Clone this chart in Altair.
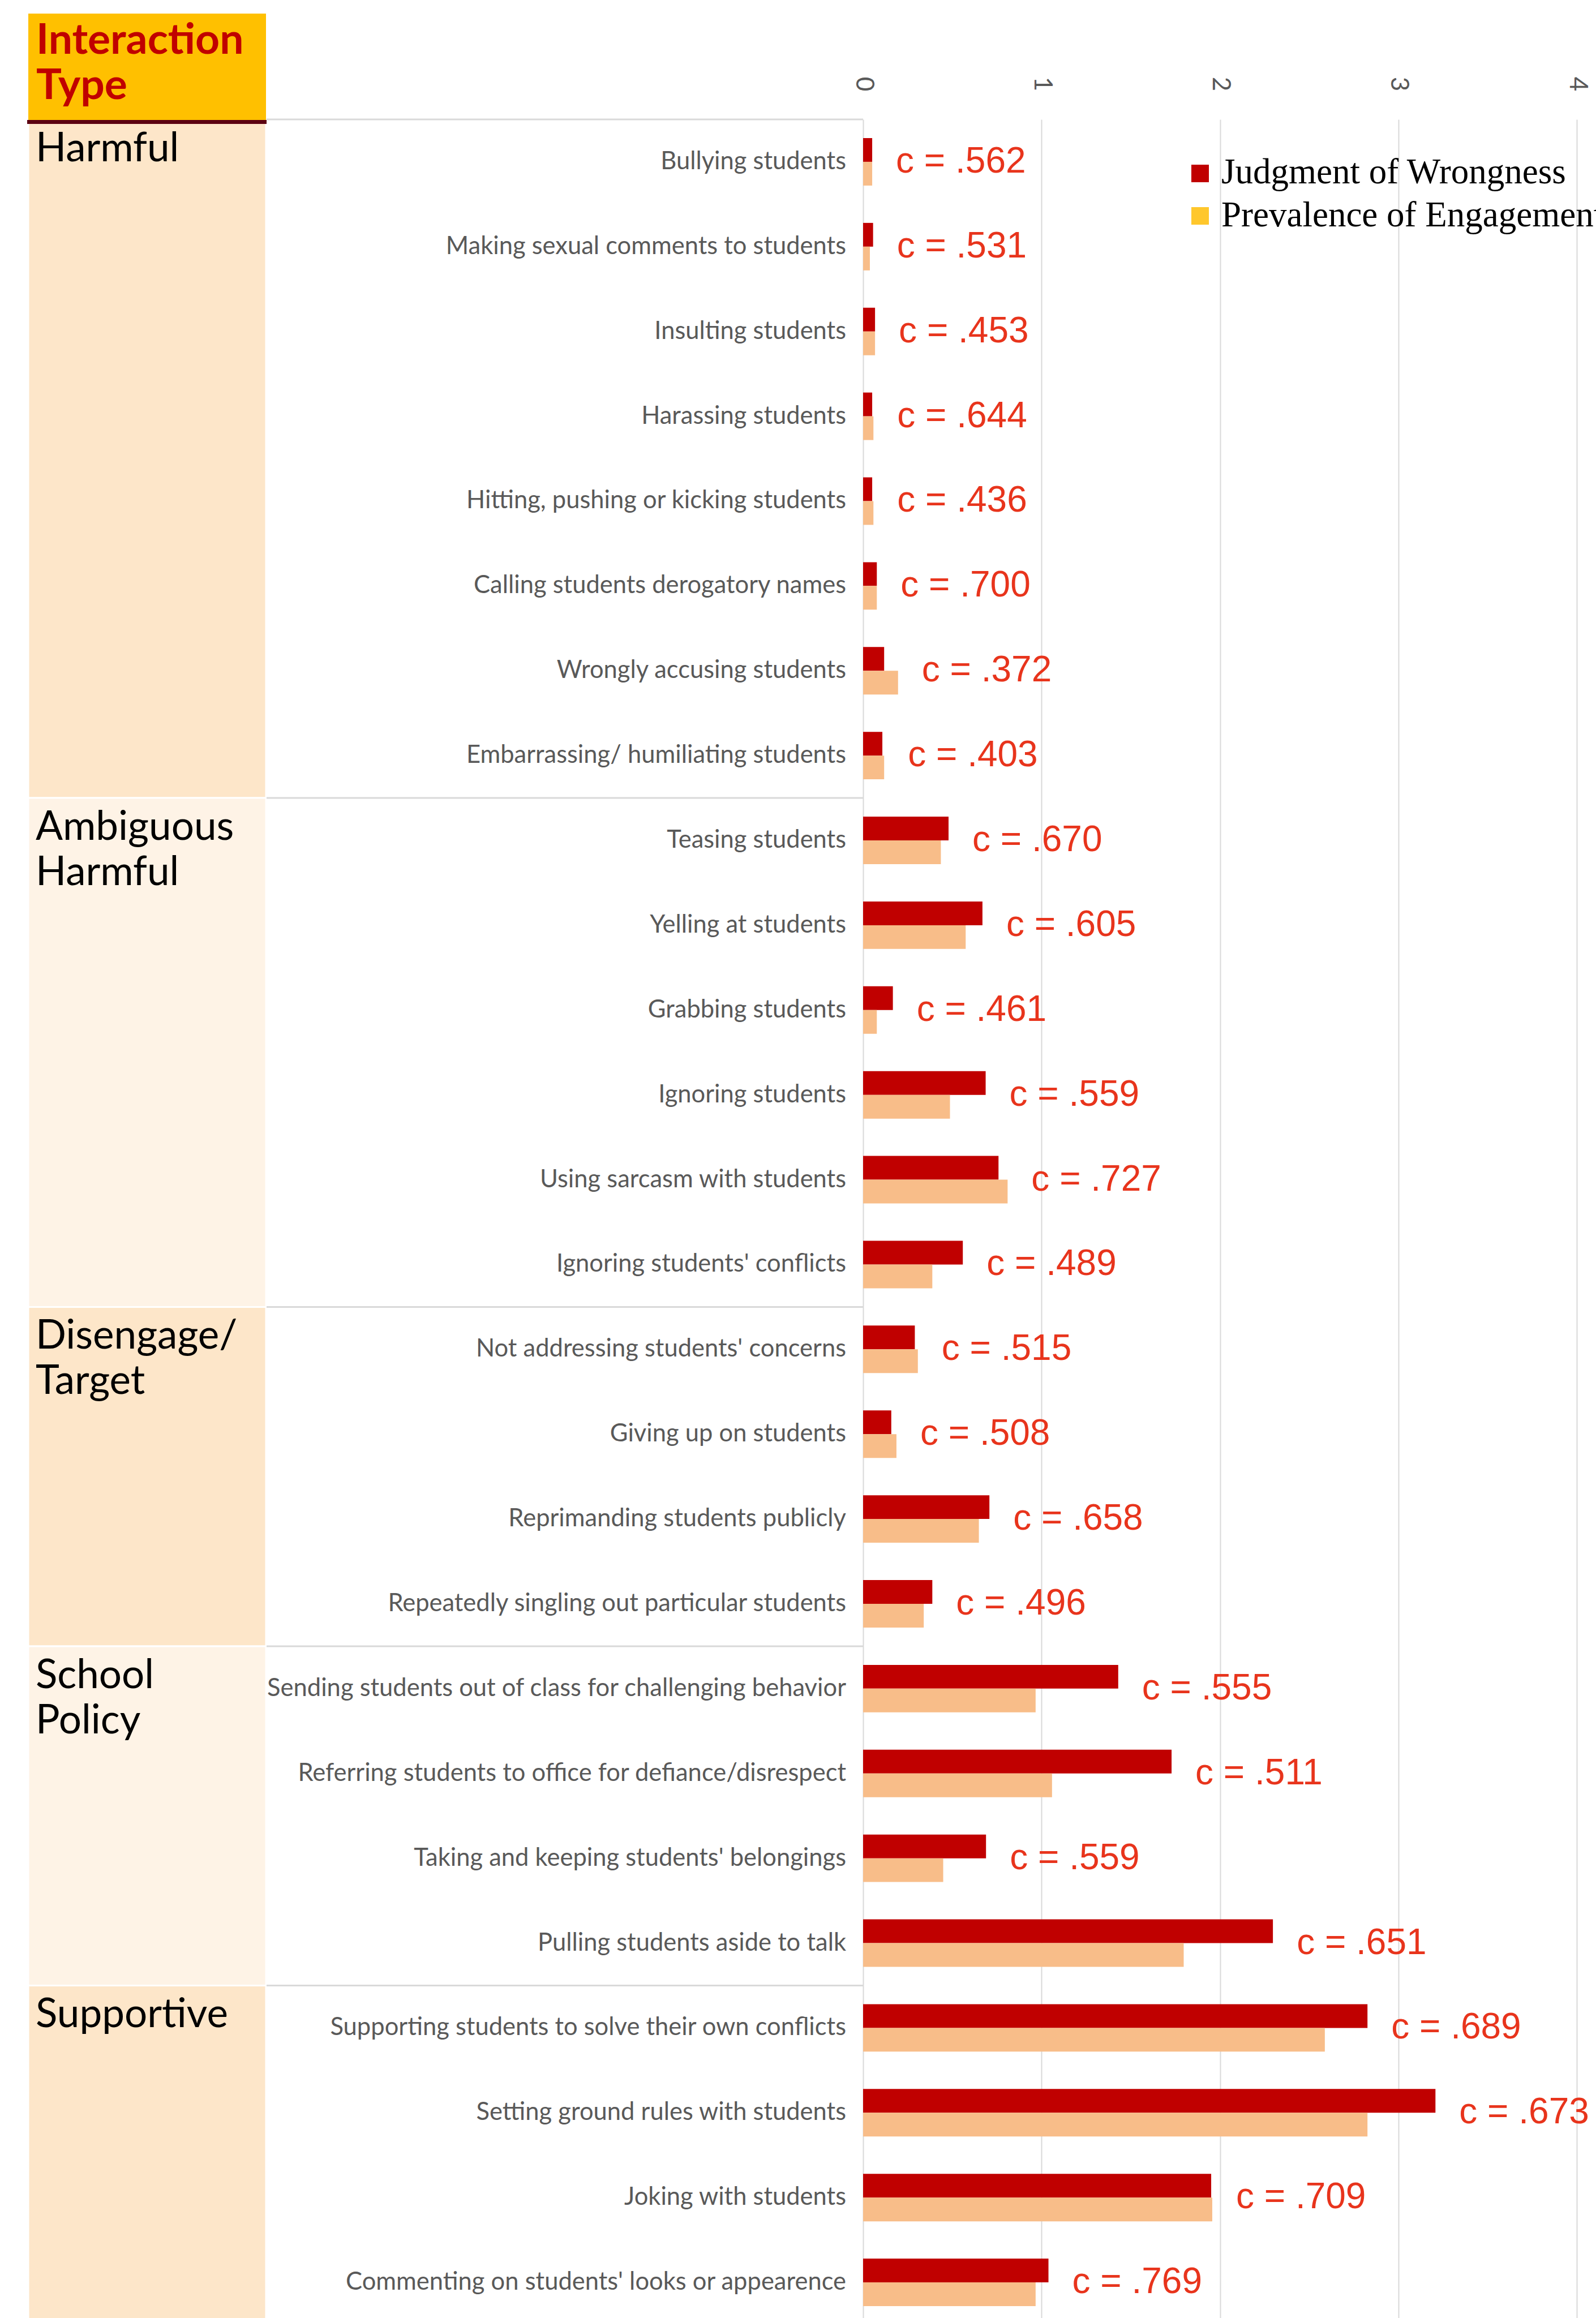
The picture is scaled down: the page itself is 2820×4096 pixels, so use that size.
import altair as alt
import pandas as pd

items = [
    "Bullying students",
    "Making sexual comments to students",
    "Insulting students",
    "Harassing students",
    "Hitting, pushing or kicking students",
    "Calling students derogatory names",
    "Wrongly accusing students",
    "Embarrassing/ humiliating students",
    "Teasing students",
    "Yelling at students",
    "Grabbing students",
    "Ignoring students",
    "Using sarcasm with students",
    "Ignoring students' conflicts",
    "Not addressing students' concerns",
    "Giving up on students",
    "Reprimanding students publicly",
    "Repeatedly singling out particular students",
    "Sending students out of class for challenging behavior",
    "Referring students to office for defiance/disrespect",
    "Taking and keeping students' belongings",
    "Pulling students aside to talk",
    "Supporting students to solve their own conflicts",
    "Setting ground rules with students",
    "Joking with students",
    "Commenting on students' looks or appearence",
]
group_names = ["Harmful", "Ambiguous\nHarmful", "Disengage/\nTarget", "School\nPolicy", "Supportive"]
group_sizes = [8, 6, 4, 4, 4]

judgment = [0.051, 0.056, 0.067, 0.051, 0.051, 0.077, 0.118, 0.108,
            0.479, 0.669, 0.167, 0.687, 0.759, 0.559,
            0.290, 0.158, 0.708, 0.388,
            1.430, 1.729, 0.689, 2.297,
            2.827, 3.208, 1.951, 1.039]
prevalence = [0.051, 0.038, 0.067, 0.058, 0.058, 0.077, 0.196, 0.118,
              0.436, 0.575, 0.077, 0.487, 0.810, 0.388,
              0.307, 0.187, 0.649, 0.340,
              0.967, 1.059, 0.449, 1.797,
              2.588, 2.827, 1.957, 0.967]
c_values = [".562", ".531", ".453", ".644", ".436", ".700", ".372", ".403",
            ".670", ".605", ".461", ".559", ".727", ".489",
            ".515", ".508", ".658", ".496",
            ".555", ".511", ".559", ".651",
            ".689", ".673", ".709", ".769"]
series_names = ["Judgment of Wrongness", "Prevalence of Engagement"]
tick_values = [0, 1, 2, 3, 4]

# colours
RED = "#c00000"
ORANGE = "#f8bd89"
LEGEND_YELLOW = "#ffc72c"
LABEL_RED = "#e8341c"
PEACH = "#fde6c9"
LIGHT = "#fef3e6"
GOLD = "#ffc000"
MAROON = "#5c0011"
GRAY_TXT = "#595959"
GRID = "#d9d9d9"

# layout (output pixels)
W = 2820
N = len(items)
STEP = 149.9
H = round(N * STEP)
TOP = 211
X0, X4 = 1525, 2786

# ---- data tables ----
bars_df = pd.DataFrame({
    "item": items * 2,
    "series": [series_names[0]] * N + [series_names[1]] * N,
    "value": judgment + prevalence,
})
lab_df = pd.DataFrame({
    "item": items,
    "pos": [max(a, b) for a, b in zip(judgment, prevalence)],
    "label": ["c = " + c for c in c_values],
})
starts, s = [], 0
for g in group_sizes:
    starts.append(s)
    s += g
ends = [a + b for a, b in zip(starts, group_sizes)]
grp_df = pd.DataFrame({"group": group_names, "start": starts, "end": ends})
one = pd.DataFrame({"k": [0]})

xs = alt.Scale(domain=[0, 4], range=[X0, X4], nice=False, zero=True)
x_axis = alt.Axis(orient="top", values=tick_values, labelAngle=90, labelAlign="center",
                  labelBaseline="middle", labelPadding=63, ticks=False, domain=False,
                  grid=True, gridColor=GRID, gridWidth=2, labelFont="Lato",
                  labelFontSize=44, labelColor=GRAY_TXT, title=None)
ys = alt.Scale(domain=items, paddingInner=0.44, paddingOuter=0.22)
ybg = alt.Scale(domain=[0, N], reverse=True, nice=False, zero=False)

# ---- background column ----
grp_rect = alt.Chart(grp_df).mark_rect(stroke="white", strokeWidth=3).encode(
    x=alt.value(50), x2=alt.value(470),
    y=alt.Y("start:Q", scale=ybg, axis=None), y2="end:Q",
    color=alt.Color("group:N", scale=alt.Scale(domain=group_names,
                    range=[PEACH, LIGHT, PEACH, LIGHT, PEACH]), legend=None),
)
sep = alt.Chart(grp_df).mark_rule(color=GRID, strokeWidth=3).encode(
    x=alt.value(471), x2=alt.value(X0),
    y=alt.Y("start:Q", scale=ybg, axis=None),
)
grp_text = alt.Chart(grp_df).mark_text(
    align="left", baseline="alphabetic", dy=74, lineBreak="\n", lineHeight=80,
    font="Lato", fontSize=71, color="black",
).encode(
    x=alt.value(63), y=alt.Y("start:Q", scale=ybg, axis=None), text="group:N",
)

# ---- header box ----
gold = alt.Chart(one).mark_rect(color=GOLD).encode(
    x=alt.value(50), x2=alt.value(470), y=alt.value(-187), y2=alt.value(1))
maroon = alt.Chart(one).mark_rect(color=MAROON).encode(
    x=alt.value(48), x2=alt.value(471), y=alt.value(1), y2=alt.value(8))
title = alt.Chart(one).mark_text(
    text="Interaction\nType", lineBreak="\n", lineHeight=80, align="left",
    baseline="alphabetic", font="Lato", fontWeight="bold", fontSize=75, color=RED,
).encode(x=alt.value(64), y=alt.value(-116))

# ---- bars ----
bars = alt.Chart(bars_df).mark_bar().encode(
    x=alt.X("value:Q", scale=xs, axis=x_axis),
    y=alt.Y("item:N", scale=ys, axis=None, sort=items),
    yOffset=alt.YOffset("series:N", scale=alt.Scale(domain=series_names,
                        paddingInner=0, paddingOuter=0)),
    color=alt.Color("series:N", scale=alt.Scale(domain=series_names,
                    range=[RED, ORANGE]), legend=None),
)
row_labels = alt.Chart(lab_df).mark_text(
    align="right", baseline="middle", font="Lato", fontSize=43.5, color=GRAY_TXT,
).encode(
    x=alt.value(1495),
    y=alt.Y("item:N", scale=ys, axis=None, sort=items),
    text="item:N",
)
c_labels = alt.Chart(lab_df).mark_text(
    align="left", baseline="middle", dx=42, font="Liberation Sans",
    fontSize=64, color=LABEL_RED,
).encode(
    x=alt.X("pos:Q", scale=xs, axis=x_axis),
    y=alt.Y("item:N", scale=ys, axis=None, sort=items),
    text="label:N",
)

# ---- legend ----
leg_sq1 = alt.Chart(one).mark_rect(color=RED).encode(
    x=alt.value(2105), x2=alt.value(2136), y=alt.value(80), y2=alt.value(111))
leg_sq2 = alt.Chart(one).mark_rect(color=LEGEND_YELLOW).encode(
    x=alt.value(2105), x2=alt.value(2136), y=alt.value(155), y2=alt.value(186))
leg_t1 = alt.Chart(one).mark_text(
    text=series_names[0], align="left", baseline="alphabetic",
    font="Liberation Serif", fontSize=63, color="black",
).encode(x=alt.value(2158), y=alt.value(113))
leg_t2 = alt.Chart(one).mark_text(
    text=series_names[1], align="left", baseline="alphabetic",
    font="Liberation Serif", fontSize=63, color="black",
).encode(x=alt.value(2158), y=alt.value(189))

chart = alt.layer(
    grp_rect, sep, grp_text, gold, maroon, title,
    bars, row_labels, c_labels,
    leg_sq1, leg_sq2, leg_t1, leg_t2,
).resolve_scale(
    y="independent", color="independent"
).properties(
    width=W, height=H,
    padding={"left": 0, "right": 0, "top": TOP, "bottom": 0},
    autosize=alt.AutoSizeParams(type="none"),
    background="white",
).configure_view(stroke=None)

chart.save("out.html", embed_options={"renderer": "svg", "actions": False})
